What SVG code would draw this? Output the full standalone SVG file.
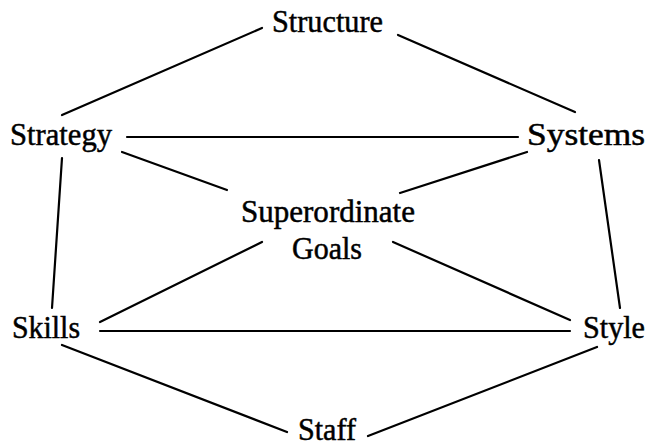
<svg xmlns="http://www.w3.org/2000/svg" width="651" height="447" viewBox="0 0 651 447">
<style>
.t{font-family:'Liberation Serif','Times New Roman',Tinos,serif;font-size:32px;fill:#000;stroke:#000;stroke-width:0.5}
.c line{stroke:#000;stroke-width:2.2;stroke-linecap:round}
</style>
<rect width="651" height="447" fill="#fff"/>
<g class="c" id="connectors">
<line x1="262" y1="28" x2="62" y2="115"/>
<line x1="398" y1="35" x2="575" y2="112"/>
<line x1="127" y1="137" x2="518" y2="137"/>
<line x1="122" y1="152" x2="227" y2="190"/>
<line x1="527" y1="152" x2="400" y2="193"/>
<line x1="62" y1="158" x2="52" y2="308"/>
<line x1="599" y1="160" x2="620" y2="308"/>
<line x1="262" y1="242" x2="100" y2="322"/>
<line x1="393" y1="242" x2="570" y2="320"/>
<line x1="100" y1="331" x2="570" y2="331"/>
<line x1="62" y1="345" x2="287" y2="432"/>
<line x1="597" y1="347" x2="368" y2="436"/>
</g>
<g id="structure"><text class="t" x="272" y="32" textLength="111" lengthAdjust="spacingAndGlyphs">Structure</text></g>
<g id="strategy"><text class="t" x="10" y="145" textLength="102" lengthAdjust="spacingAndGlyphs">Strategy</text></g>
<g id="systems"><text class="t" x="527" y="145" textLength="118" lengthAdjust="spacingAndGlyphs">Systems</text></g>
<g id="superordinate-goals"><text class="t" x="241" y="222" textLength="174" lengthAdjust="spacingAndGlyphs">Superordinate</text><text class="t" x="292" y="259" textLength="70" lengthAdjust="spacingAndGlyphs">Goals</text></g>
<g id="skills"><text class="t" x="12" y="338" textLength="68" lengthAdjust="spacingAndGlyphs">Skills</text></g>
<g id="style"><text class="t" x="583" y="338" textLength="62" lengthAdjust="spacingAndGlyphs">Style</text></g>
<g id="staff"><text class="t" x="298" y="440" textLength="58" lengthAdjust="spacingAndGlyphs">Staff</text></g>
</svg>
